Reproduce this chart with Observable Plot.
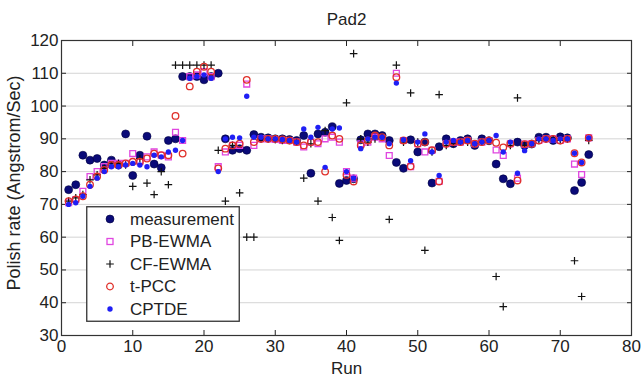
<!DOCTYPE html>
<html><head><meta charset="utf-8">
<script src="https://cdn.jsdelivr.net/npm/d3@7"></script>
<script src="https://cdn.jsdelivr.net/npm/@observablehq/plot@0.6"></script>
<style>
body{margin:0;background:#fff;}
#wrap{position:relative;width:642px;height:377px;font-family:"Liberation Sans",Arial,sans-serif;}
#legend{position:absolute;left:86px;top:206px;}
</style></head>
<body><div id="wrap"><div id="chart"></div><div id="legend"></div></div>
<script>
const title = "Pad2";
const xLabel = "Run";
const yLabel = "Polish rate (Angstrom/Sec)";
const xTicks = [0,10,20,30,40,50,60,70,80];
const yTicks = [30,40,50,60,70,80,90,100,110,120];
const gridTicks = [40,50,60,70,80,90,100,110];
const seriesNames = ["measurement","PB-EWMA","CF-EWMA","t-PCC","CPTDE"];

const runs = [1,2,3,4,5,6,7,8,9,10,11,12,13,14,15,16,17,18,19,20,21,22,23,24,25,26,27,28,29,30,31,32,33,34,35,36,37,38,39,40,41,42,43,44,45,46,47,48,49,50,51,52,53,54,55,56,57,58,59,60,61,62,63,64,65,66,67,68,69,70,71,72,73,74];

const measurement = [74.5,76,85,83.5,84,82,83.5,82,91.5,78.8,85,90.8,82.3,81.2,89.5,90,
  109,109,109,108,109,110,
  90,86.5,87,86.5,91.3,90.5,90.3,90,90,89.8,89.5,
  91,79.5,91.5,92,93.7,76.4,77.3,77.8,
  89.7,91.5,91.5,91,89.5,82.8,81,89.7,86,89,76.5,87.6,
  90,88.5,89.5,90,88,90,89.4,
  82.3,77.8,76.3,89,88,88.4,90.5,90.5,89.5,90.6,90.3,74.2,76.7,85.2];

const pbEwma = [70.5,71.5,74,78.5,80,81.5,82.5,82.5,82.5,85.5,83,84.5,86,85,84.5,92,
  89.5,109,109.5,110.5,109,81.5,
  86,88,88,106.7,88,90,90,89.8,89.5,89.5,89,
  87.5,89,88.5,90,90.5,89,80,78,
  88.5,89,90.5,90,84.9,110,89.5,81.5,88.5,86,86.5,77,
  88.5,89,89,89.5,88.5,89,89.5,
  86.6,84.9,88.5,78,88.4,88.5,89.5,90,90,89.5,90,82.3,79.1,90.3];

const cfEwma = [71,72,73,77.5,79,81,82,82.5,82,75.5,84,76.5,73,80,76,112.5,
  112.5,112.5,112.5,112.5,112.5,86.5,
  71,88,73.5,60,60,90,90,89.8,89.5,89.5,89,
  78,88.5,71,92.5,66,59,101,116,
  90,89,90,90.5,65.4,112.5,89,104,89,56,86,103.5,
  88,88.5,89,89,88.5,89,89.5,
  48,38.8,88,102.5,88,88.5,89.5,90,90,89.5,90,52.8,41.9,89.5];

const tPcc = [71,71.5,72.5,76,78.5,80.5,82,82,82.5,83,83,84,85.5,85,85,97,
  85.5,106,110.5,112,110.5,81,
  87,88,88.5,108,89,90,90,90,89.8,89.5,89,
  88,89,89,80,91,90,79,77,
  88,89.5,91,90.5,88,108.8,89.5,81.6,88.5,89,86.5,77,
  88.5,89,89,89.5,88.5,89,89.5,
  88.8,87.4,88.5,77.3,88.4,88.5,89.5,90,90,89.5,90,85.6,82.8,90.3];

const cptde = [70,70.5,72.5,75.5,78,80,81.5,81.5,82,82.5,82,81.5,85,84.5,86,86.5,
  89.5,108.5,109,109.5,108.5,80,
  90,90.5,90.3,103,90.5,90.5,90,90,89.8,89.5,89,
  93,90.5,93.5,81.3,93,93.3,80,78,
  87,90,90.5,90.5,88.5,107,89.7,83.3,89,91.5,86,78.8,
  89,89.5,89,89.5,88.5,89,89.5,
  91,86,89,79.5,86.4,88.5,90,90,89.5,90,90,85.6,82.8,90.3];

const colors = {m:"#0a0a78", mStroke:"#000040", pb:"#e046e0", cf:"#111", tp:"#e0302a", cp:"#1f1ff5"};

const plusSym = {draw(ctx, size){ const r = Math.sqrt(size/Math.PI); ctx.moveTo(-r,0); ctx.lineTo(r,0); ctx.moveTo(0,-r); ctx.lineTo(0,r); }};

const rows = (vals) => runs.map((r,i)=>({run:r, v:vals[i]}));

const chart = Plot.plot({
  width: 642, height: 377,
  marginTop: 40, marginBottom: 42, marginLeft: 61, marginRight: 11,
  style: {fontFamily: "'Liberation Sans', Arial, sans-serif", fontSize: "17px", color: "#222", background: "white"},
  x: {domain: [0,80]},
  y: {domain: [30,120]},
  marks: [
    Plot.gridY(gridTicks, {stroke: "#d4d4d4", strokeOpacity: 1}),
    Plot.axisX(xTicks, {anchor: "bottom", tickSize: -5, tickPadding: 9, fontSize: 17, label: xLabel, labelAnchor: "center", labelOffset: 38, labelArrow: "none"}),
    Plot.axisX(xTicks, {anchor: "top", tickSize: -5, tickFormat: () => "", label: null}),
    Plot.axisY(yTicks, {anchor: "left", tickSize: -5, tickPadding: 8, fontSize: 17, label: null}),
    Plot.axisY(yTicks, {anchor: "right", tickSize: -5, tickFormat: () => "", label: null}),
    Plot.frame({stroke: "#333", strokeWidth: 1.2}),
    Plot.dot(rows(measurement), {x: "run", y: "v", r: 4, fill: colors.m, stroke: colors.mStroke, strokeWidth: 0.6}),
    Plot.dot(rows(pbEwma), {x: "run", y: "v", r: 3.3, symbol: "square", fill: "none", stroke: colors.pb, strokeWidth: 1.3}),
    Plot.dot(rows(cfEwma), {x: "run", y: "v", r: 3.8, symbol: plusSym, fill: "none", stroke: colors.cf, strokeWidth: 1.2}),
    Plot.dot(rows(tPcc), {x: "run", y: "v", r: 3.3, fill: "none", stroke: colors.tp, strokeWidth: 1.3}),
    Plot.dot(rows(cptde), {x: "run", y: "v", r: 2.7, fill: colors.cp, stroke: "none"}),
    Plot.text([title], {frameAnchor: "top", dy: -28, text: d => d, fontSize: 17}),
    Plot.text([yLabel], {frameAnchor: "left", dx: -47, dy: -5, rotate: -90, textAnchor: "middle", text: d => d, fontSize: 18})
  ]
});
document.getElementById("chart").appendChild(chart);

// legend
const lw = 154, lh = 116;
const lg = d3.select("#legend").append("svg").attr("width", lw).attr("height", lh)
  .style("font-family", "'Liberation Sans', Arial, sans-serif");
lg.append("rect").attr("x",0.75).attr("y",0.75).attr("width",lw-1.5).attr("height",lh-1.5)
  .attr("fill","#fff").attr("stroke","#333").attr("stroke-width",1.3);
const ys = [13,35.5,58,80.5,103];
seriesNames.forEach((name,i)=>{
  const g = lg.append("g").attr("transform",`translate(24,${ys[i]})`);
  if(i===0) g.append("circle").attr("r",4).attr("fill",colors.m).attr("stroke",colors.mStroke).attr("stroke-width",0.6);
  if(i===1) g.append("rect").attr("x",-3).attr("y",-3).attr("width",6).attr("height",6).attr("fill","none").attr("stroke",colors.pb).attr("stroke-width",1.3);
  if(i===2) g.append("path").attr("d","M-3.8,0H3.8M0,-3.8V3.8").attr("stroke",colors.cf).attr("stroke-width",1.2);
  if(i===3) g.append("circle").attr("r",3.3).attr("fill","none").attr("stroke",colors.tp).attr("stroke-width",1.3);
  if(i===4) g.append("circle").attr("r",2.7).attr("fill",colors.cp);
  lg.append("text").attr("x",44).attr("y",ys[i]).attr("dy","0.35em").attr("font-size",17).attr("fill","#222").text(name);
});
</script>
</body></html>
